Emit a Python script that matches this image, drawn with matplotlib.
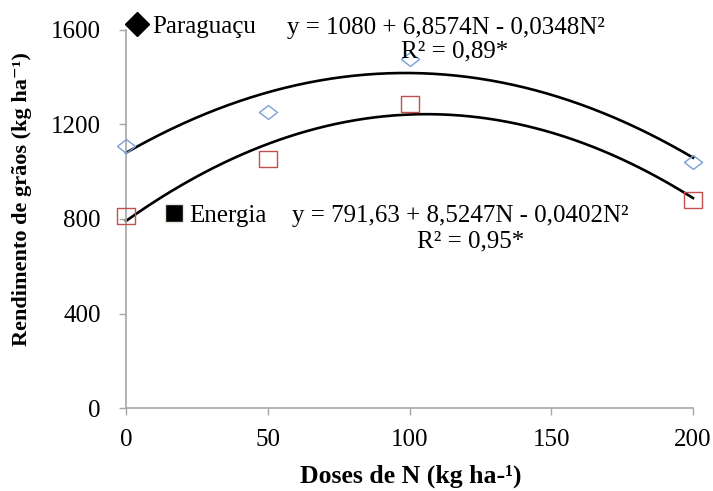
import numpy as np
import matplotlib
matplotlib.use("Agg")
import matplotlib.pyplot as plt
from matplotlib.lines import Line2D

plt.rcParams['font.family'] = ['Liberation Serif', 'DejaVu Serif']

# N doses and observed yields
doses = [0, 50, 100, 200]
paraguacu = [1107, 1253, 1476, 1043]
energia = [812, 1055, 1288, 882]

# quadratic fits: y = a + b*N + c*N^2
coef_paraguacu = [1080, 6.8574, -0.0348]
coef_energia = [791.63, 8.5247, -0.0402]

eq_paraguacu = "y = 1080 + 6,8574N - 0,0348N²"
r2_paraguacu = "R² = 0,89*"
eq_energia = "y = 791,63 + 8,5247N - 0,0402N²"
r2_energia = "R² = 0,95*"

x_ticks = [0, 50, 100, 150, 200]
y_ticks = [0, 400, 800, 1200, 1600]

grey = '#A6A6A6'
blue = '#7BA0D4'
red = '#C0504D'

# slightly wide markers
diamond = [(-1.3, 0), (0, 1), (1.3, 0), (0, -1), (-1.3, 0)]
box = [(-1.2, -1), (1.2, -1), (1.2, 1), (-1.2, 1), (-1.2, -1)]

fig = plt.figure(figsize=(7.13, 4.91), dpi=100)
ax = fig.add_axes([0.1767, 0.169, 0.7953, 0.770])

n = np.linspace(0, 200, 300)
for coef in (coef_paraguacu, coef_energia):
    a, b, c = coef
    ax.plot(n, a + b * n + c * n ** 2, color='black', lw=1.9, zorder=2,
            clip_on=False)

ax.plot(doses, paraguacu, linestyle='none', marker=diamond, ms=13,
        mfc='none', mec=blue, mew=1.0, zorder=3, clip_on=False)
ax.plot(doses, energia, linestyle='none', marker=box, ms=13,
        mfc='none', mec=red, mew=1.0, zorder=3, clip_on=False)

ax.set_xlim(0, 200)
ax.set_ylim(0, 1600)
ax.set_xticks(x_ticks)
ax.set_yticks(y_ticks)
ax.tick_params(direction='out', length=5, width=1, color=grey,
               labelsize=18, labelcolor='black')
ax.tick_params(axis='y', pad=13)
ax.tick_params(axis='x', pad=10)
for side in ('top', 'right'):
    ax.spines[side].set_visible(False)
for side in ('left', 'bottom'):
    ax.spines[side].set_color(grey)
    ax.spines[side].set_linewidth(1.2)

ax.set_xlabel("Doses de N (kg ha-¹)", fontsize=18.5, fontweight='bold',
              va='center')
ax.xaxis.set_label_coords(0.503, -0.18)
ax.set_ylabel("Rendimento de grãos (kg ha⁻¹)", fontsize=16,
              fontweight='bold', va='center')
ax.yaxis.set_label_coords(-0.183, 0.553)

# equations next to each cultivar
ax.text(56.8, 1608, eq_paraguacu, fontsize=18, va='center', ha='left')
ax.text(116, 1507, r2_paraguacu, fontsize=18, va='center', ha='center')
ax.text(58.6, 813, eq_energia, fontsize=18, va='center', ha='left')
ax.text(121.7, 703, r2_energia, fontsize=18, va='center', ha='center')

# one legend entry per cultivar, placed beside its equation
h1 = Line2D([], [], linestyle='none', marker='D', ms=12, mfc='black',
            mec='black')
h2 = Line2D([], [], linestyle='none', marker='s', ms=13, mfc='black',
            mec='#E8E4D8', mew=1.0)
leg1 = ax.legend([h1], ["Paraguaçu"], loc='center left',
                 bbox_to_anchor=(0.0018, 1.008), frameon=False, fontsize=18,
                 handlelength=0.8, handletextpad=0.2, borderpad=0,
                 borderaxespad=0)
ax.add_artist(leg1)
ax.legend([h2], ["Energia"], loc='center left',
          bbox_to_anchor=(0.067, 0.508), frameon=False, fontsize=18,
          handlelength=0.8, handletextpad=0.2, borderpad=0,
          borderaxespad=0)

fig.savefig("out.png", dpi=100)
